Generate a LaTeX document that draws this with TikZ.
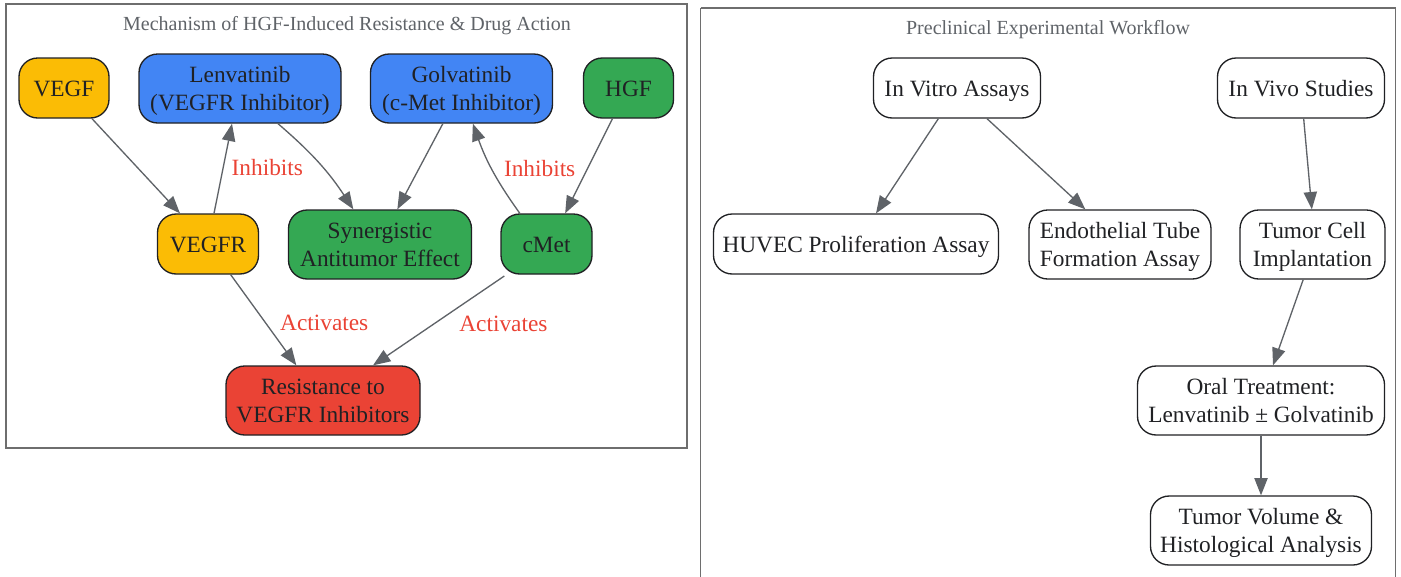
\documentclass[tikz,border=0pt]{standalone}
\usepackage{fontspec}
\setmainfont{Liberation Serif}
\usetikzlibrary{arrows.meta}
\definecolor{gy}{HTML}{FBBC05}
\definecolor{gb}{HTML}{4285F4}
\definecolor{gg}{HTML}{34A853}
\definecolor{gr}{HTML}{EA4335}
\definecolor{txt}{HTML}{202124}
\definecolor{edgec}{HTML}{5F6368}
\definecolor{clus}{HTML}{6E6E6E}
\begin{document}
\begin{tikzpicture}[x=0.75pt,y=-0.75pt,
  box/.style={draw=txt, line width=1pt, rounded corners=14pt, align=center, text=txt,
    font=\fontsize{17.5}{21}\selectfont, inner sep=0pt},
  one/.style={box, minimum height=45pt, text height=13.75pt, text depth=1pt},
  two/.style={box, minimum height=51.75pt, text height=34pt, text depth=1pt},
  conn/.style={draw=edgec, line width=1pt, -{Triangle[length=13pt,width=10pt]}},
  lbl/.style={text=gr, font=\fontsize{17.5}{21}\selectfont, inner sep=0pt},
  cluster/.style={draw=clus, line width=1.2pt},
  ctitle/.style={text=edgec, font=\fontsize{15}{18}\selectfont, inner sep=0pt}]
\useasboundingbox (0,0) rectangle (1401,576);
% clusters
\draw[cluster] (6,4) rectangle (687,448);
\node[ctitle] (t1) at (347,25.5) {Mechanism of HGF-Induced Resistance \& Drug Action};
\draw[cluster] (700.5,8) -- (1395.5,8) -- (1395.5,580);
\draw[cluster] (700.5,8) -- (700.5,580);
\node[ctitle] (t2) at (1048,30) {Preclinical Experimental Workflow};
% left nodes
\node[one, fill=gy, minimum width=67.5pt] (vegf) at (64,88) {VEGF};
\node[two, fill=gb, minimum width=151.5pt] (lenv) at (240,88.5) {Lenvatinib\\(VEGFR Inhibitor)};
\node[two, fill=gb, minimum width=136.5pt] (golv) at (461.5,88.5) {Golvatinib\\(c-Met Inhibitor)};
\node[one, fill=gg, minimum width=67.5pt] (hgf) at (628.5,88) {HGF};
\node[one, fill=gy, minimum width=75.75pt] (vegfr) at (208,244) {VEGFR};
\node[two, fill=gg, minimum width=137.25pt] (syn) at (380,244.5) {Synergistic\\Antitumor Effect};
\node[one, fill=gg, minimum width=68.25pt] (cmet) at (546.5,244) {cMet};
\node[two, fill=gr, minimum width=145.5pt] (res) at (323,400.5) {Resistance to\\VEGFR Inhibitors};
% right nodes
\node[one, minimum width=125.25pt] (vitro) at (957,88) {In Vitro Assays};
\node[one, minimum width=125.25pt] (vivo) at (1301,88) {In Vivo Studies};
\node[one, minimum width=213.75pt] (huvec) at (856,244) {HUVEC Proliferation Assay};
\node[two, minimum width=136.5pt] (endo) at (1120,244.5) {Endothelial Tube\\Formation Assay};
\node[two, minimum width=108.75pt] (tcell) at (1312.5,244.5) {Tumor Cell\\Implantation};
\node[two, minimum width=185.25pt] (oral) at (1261,400.5) {Oral Treatment:\\Lenvatinib ± Golvatinib};
\node[two, minimum width=165.75pt] (tvol) at (1261,530.5) {Tumor Volume \&\\Histological Analysis};
% left edges
\draw[conn] ([xshift=21pt]vegf.south) -- ([xshift=-21pt]vegfr.north);
\draw[conn] ([xshift=4.5pt]vegfr.north) -- node[lbl, pos=0.5, anchor=west, xshift=6pt, yshift=0.5pt] (l1) {Inhibits} ([xshift=-6pt]lenv.south);
\draw[conn] ([xshift=28.5pt]lenv.south) to[bend left=8] ([xshift=-20pt]syn.north);
\draw[conn] ([xshift=-14pt]golv.south) -- ([xshift=13pt]syn.north);
\draw[conn] ([xshift=-20pt]cmet.north) to[bend left=8] node[lbl, pos=0.5, anchor=west, xshift=8pt, yshift=1.5pt] (l2) {Inhibits} ([xshift=8.5pt]golv.south);
\draw[conn] ([xshift=-12pt]hgf.south) -- ([xshift=14pt]cmet.north);
\draw[conn] ([xshift=17pt]vegfr.south) -- node[lbl, pos=0.5, anchor=west, xshift=12pt, yshift=-2.5pt] (l3) {Activates} ([xshift=-20pt]res.north);
\draw[conn] ([xshift=3pt,yshift=-1pt]cmet.south west) -- node[lbl, pos=0.5, anchor=west, xshift=15pt, yshift=-2.5pt] (l4) {Activates} ([xshift=37.5pt]res.north);
% right edges
\draw[conn] ([xshift=-14pt]vitro.south) -- ([xshift=15pt]huvec.north);
\draw[conn] ([xshift=22.5pt]vitro.south) -- ([xshift=-26pt]endo.north);
\draw[conn] ([xshift=2pt]vivo.south) -- ([xshift=-0.5pt]tcell.north);
\draw[conn] ([xshift=-7pt]tcell.south) -- ([xshift=9pt]oral.north);
\draw[conn] (oral.south) -- (tvol.north);
\end{tikzpicture}
\end{document}
